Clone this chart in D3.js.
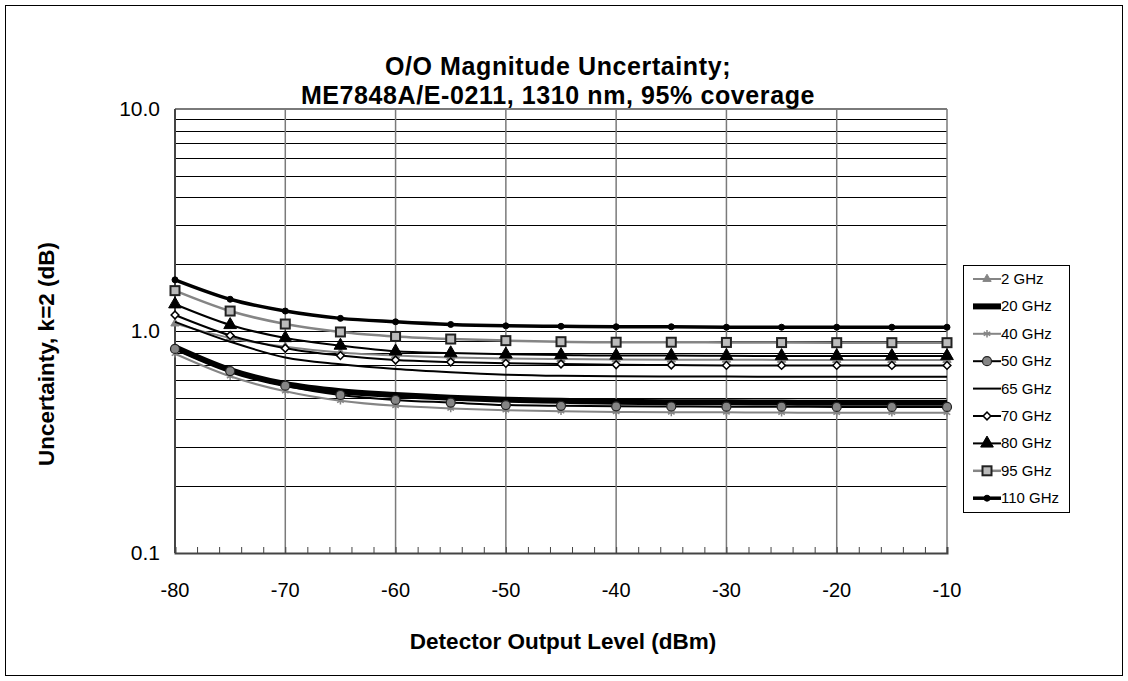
<!DOCTYPE html>
<html>
<head>
<meta charset="utf-8">
<script src="https://cdn.jsdelivr.net/npm/d3@7"></script>
<style>
  body { margin: 0; background: #ffffff; }
  svg { display: block; font-family: "Liberation Sans", Arial, sans-serif; }
</style>
</head>
<body>
<div id="chart-container"></div>
<script>
// Detector output level (dBm)
const levels = [-80, -75, -70, -65, -60, -55, -50, -45, -40, -35, -30, -25, -20, -15, -10];

// Uncertainty values (dB)
const ghz2   = [1.08, 0.93, 0.85, 0.80, 0.775, 0.76, 0.752, 0.748, 0.745, 0.743, 0.742, 0.741, 0.74, 0.74, 0.74];
const ghz20  = [0.845, 0.667, 0.577, 0.535, 0.515, 0.50, 0.49, 0.485, 0.48, 0.478, 0.477, 0.476, 0.475, 0.475, 0.475];
const ghz40  = [0.79, 0.625, 0.535, 0.485, 0.46, 0.448, 0.44, 0.435, 0.432, 0.43, 0.43, 0.429, 0.428, 0.428, 0.428];
const ghz50  = [0.83, 0.66, 0.567, 0.515, 0.489, 0.476, 0.464, 0.46, 0.458, 0.457, 0.456, 0.456, 0.455, 0.455, 0.455];
const ghz65  = [1.10, 0.895, 0.76, 0.708, 0.674, 0.652, 0.636, 0.628, 0.625, 0.624, 0.623, 0.622, 0.622, 0.622, 0.622];
const ghz70  = [1.18, 0.955, 0.836, 0.775, 0.74, 0.725, 0.715, 0.71, 0.705, 0.703, 0.70, 0.70, 0.70, 0.70, 0.70];
const ghz80  = [1.32, 1.065, 0.93, 0.86, 0.81, 0.795, 0.785, 0.78, 0.775, 0.775, 0.773, 0.772, 0.772, 0.772, 0.772];
const ghz95  = [1.52, 1.23, 1.075, 0.99, 0.945, 0.92, 0.905, 0.895, 0.89, 0.89, 0.888, 0.887, 0.886, 0.886, 0.886];
const ghz110 = [1.70, 1.39, 1.23, 1.14, 1.10, 1.07, 1.055, 1.05, 1.045, 1.045, 1.04, 1.04, 1.04, 1.04, 1.04];

const seriesNames = ["2 GHz", "20 GHz", "40 GHz", "50 GHz", "65 GHz", "70 GHz", "80 GHz", "95 GHz", "110 GHz"];
const yTickLabels = ["0.1", "1.0", "10.0"];
const yTickValues = [0.1, 1, 10];

const titleLines = ["O/O Magnitude Uncertainty;", "ME7848A/E-0211, 1310 nm, 95% coverage"];

// Styling per series (kept apart from the data)
const gray = "#858585";
const series = [
  { name: seriesNames[0], values: ghz2,   color: gray,   width: 2,   marker: "triangle", mfill: gray,   mstroke: gray },
  { name: seriesNames[1], values: ghz20,  color: "#000", width: 6,   marker: null },
  { name: seriesNames[2], values: ghz40,  color: gray,   width: 2,   marker: "star",     mfill: "none", mstroke: gray },
  { name: seriesNames[3], values: ghz50,  color: "#000", width: 2,   marker: "circle",   mfill: gray,   mstroke: "#222" },
  { name: seriesNames[4], values: ghz65,  color: "#000", width: 2,   marker: null },
  { name: seriesNames[5], values: ghz70,  color: "#000", width: 2,   marker: "diamond",  mfill: "#fff", mstroke: "#000" },
  { name: seriesNames[6], values: ghz80,  color: "#000", width: 2,   marker: "bigtriangle", mfill: "#000", mstroke: "#000" },
  { name: seriesNames[7], values: ghz95,  color: gray,   width: 2.5, marker: "square",   mfill: "#bbb", mstroke: "#222" },
  { name: seriesNames[8], values: ghz110, color: "#000", width: 3.5, marker: "dot",      mfill: "#000", mstroke: "#000" }
];

const W = 1128, H = 681;
const plot = { left: 175, right: 947, top: 109, bottom: 553 };

const svg = d3.select("#chart-container")
  .append("svg")
  .attr("width", W)
  .attr("height", H);

// outer frame
svg.append("rect")
  .attr("x", 5.5).attr("y", 5.5)
  .attr("width", W - 11).attr("height", H - 11)
  .attr("fill", "#fff")
  .attr("stroke", "#000")
  .attr("stroke-width", 1);

const x = d3.scaleLinear().domain([-80, -10]).range([plot.left, plot.right]);
const y = d3.scaleLog().domain([0.1, 10]).range([plot.bottom, plot.top]);

// horizontal gridlines (log minor + major)
svg.append("g")
  .selectAll("line")
  .data(y.ticks())
  .join("line")
  .attr("x1", plot.left)
  .attr("x2", plot.right)
  .attr("y1", d => Math.round(y(d)) + 0.5)
  .attr("y2", d => Math.round(y(d)) + 0.5)
  .attr("stroke", "#000")
  .attr("stroke-width", 1);

// vertical gridlines every 10 dB
svg.append("g")
  .selectAll("line")
  .data(d3.range(-80, -9, 10))
  .join("line")
  .attr("x1", d => x(d))
  .attr("x2", d => x(d))
  .attr("y1", plot.top)
  .attr("y2", plot.bottom)
  .attr("stroke", "#7a7a7a")
  .attr("stroke-width", 1.5);

// top border
svg.append("line")
  .attr("x1", plot.left).attr("x2", plot.right)
  .attr("y1", plot.top).attr("y2", plot.top)
  .attr("stroke", "#7a7a7a")
  .attr("stroke-width", 2);

// bottom axis with minor ticks every 2 dB
svg.append("g")
  .attr("transform", `translate(0,${plot.bottom})`)
  .call(d3.axisBottom(x).tickValues(d3.range(-80, -9, 2)).tickSize(-6).tickFormat(""))
  .call(g => g.select(".domain").attr("stroke", "#444").attr("stroke-width", 2))
  .call(g => g.selectAll(".tick line").attr("stroke", "#444").attr("stroke-width", 1));

// x tick labels
svg.append("g")
  .selectAll("text")
  .data(d3.range(-80, -9, 10))
  .join("text")
  .attr("x", d => x(d))
  .attr("y", plot.bottom + 44)
  .attr("text-anchor", "middle")
  .style("font-size", "20px")
  .text(d => d);

// left axis line
svg.append("line")
  .attr("x1", plot.left).attr("x2", plot.left)
  .attr("y1", plot.top).attr("y2", plot.bottom)
  .attr("stroke", "#444")
  .attr("stroke-width", 2);

// y tick labels
svg.append("g")
  .selectAll("text")
  .data(yTickValues)
  .join("text")
  .attr("x", plot.left - 15)
  .attr("y", d => y(d) + 7)
  .attr("text-anchor", "end")
  .style("font-size", "21px")
  .text((d, i) => yTickLabels[i]);

// axis titles
svg.append("text")
  .attr("x", 563)
  .attr("y", 649)
  .attr("text-anchor", "middle")
  .style("font-size", "22.5px")
  .style("font-weight", "bold")
  .text("Detector Output Level (dBm)");

svg.append("text")
  .attr("transform", `translate(54,354) rotate(-90)`)
  .attr("text-anchor", "middle")
  .style("font-size", "22.5px")
  .style("font-weight", "bold")
  .text("Uncertainty, k=2 (dB)");

// title (two lines)
svg.append("g")
  .selectAll("text")
  .data(titleLines)
  .join("text")
  .attr("x", 558)
  .attr("y", (d, i) => 75 + i * 29)
  .attr("text-anchor", "middle")
  .style("font-size", "25px")
  .style("letter-spacing", "0.6px")
  .style("font-weight", "bold")
  .text(d => d);

// marker drawing helper
function drawMarker(sel, type, fill, stroke) {
  if (type === "triangle") {
    sel.append("path").attr("d", d3.symbol(d3.symbolTriangle, 30)())
      .attr("fill", fill).attr("stroke", stroke).attr("stroke-width", 1);
  } else if (type === "bigtriangle") {
    sel.append("path").attr("d", d3.symbol(d3.symbolTriangle, 70)())
      .attr("fill", fill).attr("stroke", stroke).attr("stroke-width", 1);
  } else if (type === "star") {
    sel.append("path").attr("d", d3.symbol(d3.symbolAsterisk, 40)())
      .attr("fill", "none").attr("stroke", stroke).attr("stroke-width", 1.5);
  } else if (type === "circle") {
    sel.append("circle").attr("r", 4.5)
      .attr("fill", fill).attr("stroke", stroke).attr("stroke-width", 1.2);
  } else if (type === "diamond") {
    sel.append("path").attr("d", d3.symbol(d3.symbolSquare, 30)())
      .attr("transform", "rotate(45)")
      .attr("fill", fill).attr("stroke", stroke).attr("stroke-width", 1.5);
  } else if (type === "square") {
    sel.append("rect").attr("x", -4.5).attr("y", -4.5).attr("width", 9).attr("height", 9)
      .attr("fill", fill).attr("stroke", stroke).attr("stroke-width", 2);
  } else if (type === "dot") {
    sel.append("circle").attr("r", 3)
      .attr("fill", fill).attr("stroke", stroke);
  }
}

const line = d3.line()
  .x((d, i) => x(levels[i]))
  .y(d => y(d))
  .curve(d3.curveMonotoneX);

// series lines and markers
series.forEach(s => {
  svg.append("path")
    .datum(s.values)
    .attr("fill", "none")
    .attr("stroke", s.color)
    .attr("stroke-width", s.width)
    .attr("stroke-linejoin", "round")
    .attr("d", line);

  if (s.marker) {
    svg.append("g")
      .selectAll("g")
      .data(s.values)
      .join("g")
      .attr("transform", (d, i) => `translate(${x(levels[i])},${y(d)})`)
      .each(function () { drawMarker(d3.select(this), s.marker, s.mfill, s.mstroke); });
  }
});

// legend
const legend = svg.append("g").attr("transform", "translate(963,265)");
legend.append("rect")
  .attr("x", 0.5).attr("y", 0.5)
  .attr("width", 106).attr("height", 247)
  .attr("fill", "#fff")
  .attr("stroke", "#000");

series.forEach((s, i) => {
  const row = legend.append("g").attr("transform", `translate(0,${14 + i * 27.4})`);
  row.append("line")
    .attr("x1", 10).attr("x2", 38)
    .attr("stroke", s.color)
    .attr("stroke-width", s.width);
  if (s.marker) {
    const m = row.append("g").attr("transform", "translate(24,0)");
    drawMarker(m, s.marker, s.mfill, s.mstroke);
  }
  row.append("text")
    .attr("x", 38)
    .attr("y", 5)
    .style("font-size", "15px")
    .text(s.name);
});
</script>
</body>
</html>
